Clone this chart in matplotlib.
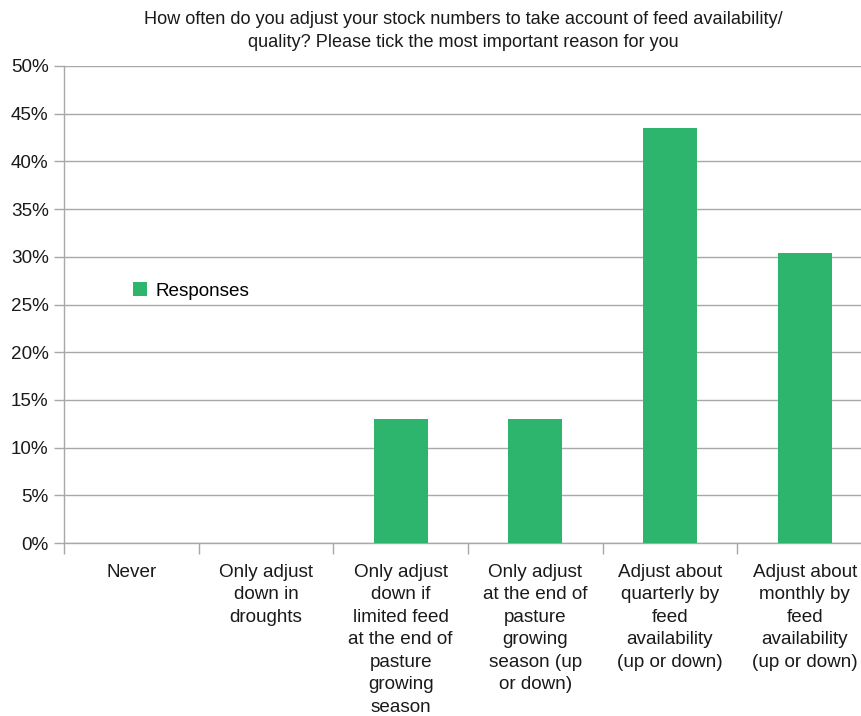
import matplotlib

matplotlib.use("Agg")
import matplotlib.pyplot as plt
import numpy as np
from matplotlib.ticker import FixedLocator, NullFormatter

plt.rcParams["font.family"] = ["Liberation Sans", "DejaVu Sans"]

title = ("How often do you adjust your stock numbers to take account of feed availability/\n"
         "quality? Please tick the most important reason for you")
categories = [
    "Never",
    "Only adjust\ndown in\ndroughts",
    "Only adjust\ndown if\nlimited feed\nat the end of\npasture\ngrowing\nseason",
    "Only adjust\nat the end of\npasture\ngrowing\nseason (up\nor down)",
    "Adjust about\nquarterly by\nfeed\navailability\n(up or down)",
    "Adjust about\nmonthly by\nfeed\navailability\n(up or down)",
]
responses = [0.0, 0.0, 13.04, 13.04, 43.48, 30.43]  # percent
yticks = [0, 5, 10, 15, 20, 25, 30, 35, 40, 45, 50]

GREEN = "#2db46d"
GRID = "#a8a8a8"
FS = 13.6

fig = plt.figure(figsize=(8.62, 7.16), dpi=100)
ax = fig.add_axes([64 / 862, 1 - 543 / 716, 808 / 862, 477 / 716])

x = np.arange(len(categories))
ax.bar(x, responses, width=0.4, color=GREEN, label="Responses", zorder=3)

ax.set_xlim(-0.5, len(categories) - 0.5)
ax.set_ylim(0, 50)
ax.set_yticks(yticks)
ax.set_yticklabels([f"{t}%" for t in yticks], fontsize=FS, color="#1a1a1a")
ax.yaxis.grid(True, color=GRID, lw=1.0, zorder=0)

ax.set_xticks(x)
ax.set_xticklabels(categories, fontsize=FS, color="#1a1a1a", linespacing=1.42,
                   va="top")
ax.tick_params(axis="x", which="major", length=0, pad=15)
ax.xaxis.set_minor_locator(FixedLocator(np.arange(len(categories) + 1) - 0.5))
ax.xaxis.set_minor_formatter(NullFormatter())
ax.tick_params(axis="x", which="minor", length=8, color=GRID, width=1.0)
ax.tick_params(axis="y", length=7, color=GRID, width=1.0, pad=4)

for side in ("top", "right"):
    ax.spines[side].set_visible(False)
for side in ("left", "bottom"):
    ax.spines[side].set_color(GRID)
    ax.spines[side].set_linewidth(1.0)

ax.legend(loc="center left", bbox_to_anchor=(0.064, 0.528), frameon=False,
          fontsize=FS, handlelength=0.75, handleheight=0.75, handletextpad=0.45)

fig.text(463 / 862, 1 - 31 / 716, title, ha="center", va="center",
         fontsize=13.1, color="#1a1a1a", linespacing=1.42)

fig.savefig("out.png", dpi=100, facecolor="white")
